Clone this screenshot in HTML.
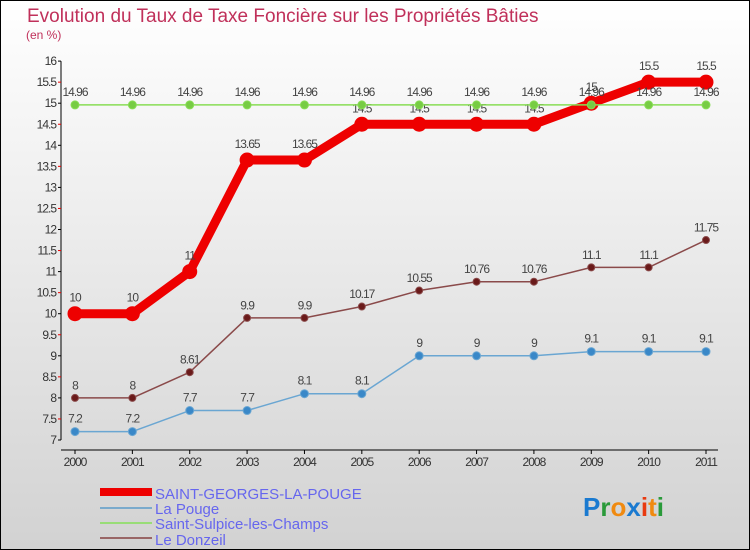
<!DOCTYPE html>
<html><head><meta charset="utf-8"><style>
body{margin:0;}
#wrap{width:750px;height:550px;position:relative;overflow:hidden;}
svg{display:block;font-family:"Liberation Sans",sans-serif;}
</style></head><body>
<div id="wrap">
<svg id="chart" width="750" height="550">
<defs><linearGradient id="bg" x1="0" y1="0" x2="0" y2="1">
<stop offset="0" stop-color="#ffffff"/><stop offset="1" stop-color="#d2d2d2"/></linearGradient></defs>
<rect x="0.5" y="0.5" width="749" height="549" fill="url(#bg)" stroke="#000"/>
<text x="27" y="22" font-size="19" fill="#c0305a">Evolution du Taux de Taxe Foncière sur les Propriétés Bâties</text>
<text x="26" y="39" font-size="12" fill="#c0305a">(en %)</text>
<g id="axes"></g><g id="series"></g>
<g>
<rect x="100" y="488" width="52" height="8" fill="#ee0000"/>
<text x="155" y="499" font-size="15" fill="#6666ee">SAINT-GEORGES-LA-POUGE</text>
<rect x="100" y="507" width="52" height="2" fill="#7aaacc"/>
<text x="155" y="514" font-size="15" fill="#6666ee">La Pouge</text>
<rect x="100" y="522" width="52" height="2" fill="#99dd77"/>
<text x="155" y="529" font-size="15" fill="#6666ee">Saint-Sulpice-les-Champs</text>
<rect x="100" y="537" width="52" height="2" fill="#996666"/>
<text x="155" y="545" font-size="15" fill="#6666ee">Le Donzeil</text>
</g>
<text x="583" y="516" font-size="26" font-weight="bold"><tspan fill="#1a7ad0">P</tspan><tspan fill="#2a9a3a">r</tspan><tspan fill="#f08a10">o</tspan><tspan fill="#1a7ad0">x</tspan><tspan fill="#e83a10">i</tspan><tspan fill="#f08a10">t</tspan><tspan fill="#2a9a3a">i</tspan></text>
</svg></div>
<script>
const years=[2000,2001,2002,2003,2004,2005,2006,2007,2008,2009,2010,2011];
const yTicks=[7,7.5,8,8.5,9,9.5,10,10.5,11,11.5,12,12.5,13,13.5,14,14.5,15,15.5,16];
const saintGeorges=[10,10,11,13.65,13.65,14.5,14.5,14.5,14.5,15,15.5,15.5];
const laPouge=[7.2,7.2,7.7,7.7,8.1,8.1,9,9,9,9.1,9.1,9.1];
const saintSulpice=[14.96,14.96,14.96,14.96,14.96,14.96,14.96,14.96,14.96,14.96,14.96,14.96];
const leDonzeil=[8,8,8.61,9.9,9.9,10.17,10.55,10.76,10.76,11.1,11.1,11.75];
const NS="http://www.w3.org/2000/svg";
const x0=75,xStep=(706-75)/11,yBase=440,yUnit=42.1;
function X(i){return x0+i*xStep;}
function Y(v){return yBase-(v-7)*yUnit;}
function mk(t,a,p){const e=document.createElementNS(NS,t);for(const k in a)e.setAttribute(k,a[k]);p.appendChild(e);return e;}
const ax=document.getElementById('axes');
const yAxis=mk('line',{x1:61,y1:Y(16),x2:61,y2:Y(7),stroke:'#000'},ax);


const xAxis=mk('line',{x1:61,y1:450,x2:718,y2:450,stroke:'#000'},ax);


yTicks.forEach(v=>{
  const isInt=Number.isInteger(v);
  mk('line',{x1:58,y1:Y(v),x2:61,y2:Y(v),stroke:isInt?'#000':'#e00'},ax);
  const t=mk('text',{x:56,y:Y(v)+4,'font-size':12,fill:'#333','text-anchor':'end','letter-spacing':'-1'},ax);
  t.textContent=v;
  
  
});
years.forEach((yr,i)=>{
  mk('line',{x1:X(i),y1:450,x2:X(i),y2:454,stroke:'#000'},ax);
  const t=mk('text',{x:X(i),y:466,'font-size':12,fill:'#333','text-anchor':'middle','letter-spacing':'-1'},ax);
  t.textContent=yr;
  
  
});
const sg=document.getElementById('series');
function series(vals,color,w,r,dotFill,name){
  const g=mk('g',{},sg);
  
  
  const pl=mk('polyline',{points:vals.map((v,i)=>X(i)+','+Y(v)).join(' '),fill:'none',stroke:color,'stroke-width':w,'stroke-linejoin':'round'},g);
  
  
  vals.forEach((v,i)=>{
    const c=mk('circle',{cx:X(i),cy:Y(v),r:r,fill:dotFill,stroke:color,'stroke-width':1},g);
    
    
    const t=mk('text',{x:X(i),y:Y(v)-r-5,'font-size':12,fill:'#444','text-anchor':'middle','letter-spacing':'-1'},g);
    t.textContent=v;
    
    
  });
}
series(saintGeorges,'#ee0000',9,7,'#ee0000','saint-georges-series');
series(laPouge,'#6aa6d2',1.5,4,'#3a88c8','la-pouge-series');
series(saintSulpice,'#88dd55',1.5,4,'#77cc44','saint-sulpice-series');
series(leDonzeil,'#8a4a4a',1.5,3.5,'#6a1a1a','le-donzeil-series');
</script>
</body></html>
